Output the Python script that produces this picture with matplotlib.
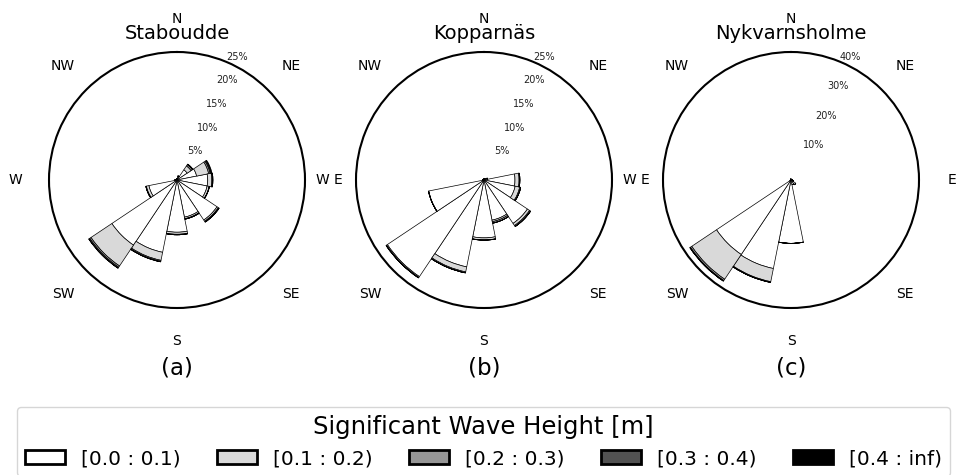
import matplotlib
matplotlib.use("Agg")
import matplotlib.pyplot as plt
from matplotlib.patches import Patch
import numpy as np

# 16 direction sectors, clockwise from north
directions = ["N", "NNE", "NE", "ENE", "E", "ESE", "SE", "SSE",
              "S", "SSW", "SW", "WSW", "W", "WNW", "NW", "NNW"]
compass_labels = ["N", "NE", "E", "SE", "S", "SW", "W", "NW"]

bin_labels = ["[0.0 : 0.1)", "[0.1 : 0.2)", "[0.2 : 0.3)", "[0.3 : 0.4)", "[0.4 : inf)"]
bin_colors = ["#ffffff", "#d9d9d9", "#969696", "#525252", "#000000"]

station_names = ["Staboudde", "Kopparnäs", "Nykvarnsholme"]
panel_letters = ["(a)", "(b)", "(c)"]
rmax_values = [25, 25, 40]
rtick_values = [[5, 10, 15, 20, 25], [5, 10, 15, 20, 25], [10, 20, 30, 40]]

# frequency [%] per height bin (rows) and direction sector (columns)
staboudde = [
    [0.3, 0.6, 2.4, 3.9, 6.0, 6.0, 9.4, 7.4, 10.2, 14.4, 15.3, 5.6, 0.4, 0.2, 0.2, 0.2],
    [0.0, 0.2, 0.9, 2.4, 0.8, 0.4, 0.3, 0.3, 0.4, 1.6, 4.9, 0.5, 0.0, 0.0, 0.0, 0.0],
    [0.0, 0.0, 0.3, 0.3, 0.15, 0.05, 0.15, 0.1, 0.1, 0.2, 0.3, 0.1, 0.0, 0.0, 0.0, 0.0],
    [0.0, 0.0, 0.1, 0.2, 0.05, 0.0, 0.05, 0.0, 0.0, 0.1, 0.2, 0.0, 0.0, 0.0, 0.0, 0.0],
    [0.0, 0.0, 0.05, 0.15, 0.02, 0.0, 0.0, 0.0, 0.0, 0.0, 0.05, 0.0, 0.0, 0.0, 0.0, 0.0],
]
kopparnas = [
    [0.2, 0.2, 0.3, 0.6, 6.05, 6.2, 10.2, 8.0, 11.3, 17.3, 22.7, 11.0, 0.3, 0.2, 0.2, 0.2],
    [0.0, 0.0, 0.0, 0.1, 0.8, 0.9, 0.5, 0.3, 0.4, 1.0, 0.2, 0.05, 0.0, 0.0, 0.0, 0.0],
    [0.0, 0.0, 0.0, 0.0, 0.15, 0.2, 0.2, 0.3, 0.05, 0.2, 0.1, 0.0, 0.0, 0.0, 0.0, 0.0],
    [0.0, 0.0, 0.0, 0.0, 0.0, 0.0, 0.05, 0.0, 0.0, 0.0, 0.0, 0.0, 0.0, 0.0, 0.0, 0.0],
    [0.0, 0.0, 0.0, 0.0, 0.0, 0.0, 0.0, 0.0, 0.0, 0.0, 0.0, 0.0, 0.0, 0.0, 0.0, 0.0],
]
nykvarnsholme = [
    [0.3, 0.2, 0.2, 0.3, 0.5, 0.8, 1.8, 1.5, 19.8, 28.2, 28.0, 0.3, 0.2, 0.2, 0.2, 0.3],
    [0.0, 0.0, 0.0, 0.0, 0.0, 0.0, 0.0, 0.0, 0.0, 4.2, 9.3, 0.0, 0.0, 0.0, 0.0, 0.0],
    [0.0, 0.0, 0.0, 0.0, 0.0, 0.0, 0.0, 0.0, 0.0, 0.2, 0.5, 0.0, 0.0, 0.0, 0.0, 0.0],
    [0.0, 0.0, 0.0, 0.0, 0.0, 0.0, 0.0, 0.0, 0.0, 0.05, 0.2, 0.0, 0.0, 0.0, 0.0, 0.0],
    [0.0, 0.0, 0.0, 0.0, 0.0, 0.0, 0.0, 0.0, 0.0, 0.0, 0.05, 0.0, 0.0, 0.0, 0.0, 0.0],
]
station_data = [staboudde, kopparnas, nykvarnsholme]

W_PX, H_PX = 958, 475
fig = plt.figure(figsize=(W_PX / 100, H_PX / 100), dpi=100)
fig.patch.set_facecolor("white")

radius_px = 128
centers_x = [177, 484, 791]
center_y = 180

theta = np.deg2rad(np.arange(len(directions)) * 360.0 / len(directions))
width = 2 * np.pi / len(directions)

for i, (name, data) in enumerate(zip(station_names, station_data)):
    left = (centers_x[i] - radius_px) / W_PX
    bottom = (H_PX - center_y - radius_px) / H_PX
    ax = fig.add_axes([left, bottom, 2 * radius_px / W_PX, 2 * radius_px / H_PX], projection="polar")
    ax.set_theta_zero_location("N")
    ax.set_theta_direction(-1)

    values = np.array(data, dtype=float)
    base = np.zeros(len(directions))
    for k in range(values.shape[0]):
        ax.bar(theta, values[k], width=width, bottom=base, color=bin_colors[k],
               edgecolor="black", linewidth=0.5, align="center", zorder=2)
        base = base + values[k]

    ax.set_ylim(0, rmax_values[i])
    ax.set_thetagrids(np.arange(0, 360, 45), labels=compass_labels, fontsize=10)
    ax.tick_params(axis="x", pad=13.5)
    ax.set_rgrids(rtick_values[i], labels=[f"{v}%" for v in rtick_values[i]],
                  angle=22.5, fontsize=7, color="#222222")
    ax.grid(False)
    ax.spines["polar"].set_linewidth(1.5)

    ax.text(0.5, 1.051, name, transform=ax.transAxes, ha="center", va="baseline", fontsize=14)
    ax.text(0.5, -0.258, panel_letters[i], transform=ax.transAxes, ha="center",
            va="baseline", fontsize=16.5)

handles = [Patch(facecolor=c, edgecolor="black", linewidth=2) for c in bin_colors]
fig.legend(handles, bin_labels, loc="upper left",
           bbox_to_anchor=(17 / W_PX, 0.0, 933 / W_PX, (H_PX - 407) / H_PX),
           mode="expand", ncol=5, borderaxespad=0, fontsize=14.5,
           title="Significant Wave Height [m]", title_fontsize=17.5)

fig.savefig("out.png", dpi=100, facecolor="white")
